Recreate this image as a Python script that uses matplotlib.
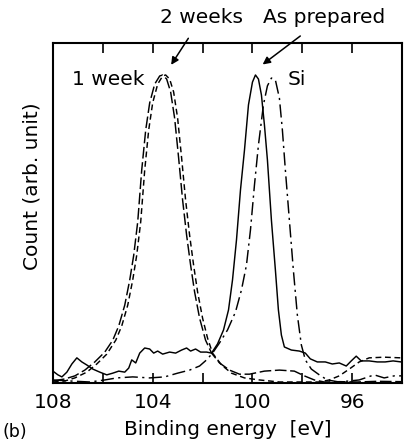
import matplotlib
matplotlib.use('Agg')
import matplotlib.pyplot as plt

# binding energy (eV) / count (arb.)
week1_x = [108.00, 107.52, 107.12, 106.72, 106.32, 105.92, 105.60, 105.36, 105.12, 104.92,
           104.76, 104.60, 104.44, 104.28, 104.12, 103.92, 103.72, 103.60, 103.44, 103.28,
           103.12, 102.96, 102.80, 102.64, 102.48, 102.32, 102.12, 101.88, 101.64, 101.32,
           100.92, 100.52, 100.12, 99.52, 98.92, 98.32, 97.92, 97.52, 97.12, 96.5, 95.8, 95.0, 94.0]
week1_y = [0.6, 1.2, 2.1, 3.8, 6.2, 9.1, 12.6, 16.8, 22.9, 30.3,
           37.6, 47.4, 62.6, 74.4, 82.4, 87.9, 90.3, 90.6, 89.4, 85.6,
           77.9, 66.2, 53.8, 43.5, 34.7, 26.8, 19.1, 12.6, 8.8, 5.9,
           3.8, 2.6, 2.6, 3.5, 3.8, 3.5, 2.1, 0.9, 0.3, 0.4, 0.3, 0.5, 0.4]

weeks2_x = [108.00, 107.52, 107.12, 106.64, 106.24, 105.84, 105.48, 105.24, 105.00, 104.80,
            104.64, 104.48, 104.32, 104.16, 104.00, 103.80, 103.60, 103.48, 103.32, 103.16,
            103.00, 102.84, 102.68, 102.52, 102.36, 102.20, 102.00, 101.80, 101.60, 101.24,
            100.84, 100.32, 99.72, 98.92, 98.12, 97.32, 96.92, 96.52, 96.12, 95.72,
            95.32, 94.72, 94.04]
weeks2_y = [0.3, 0.6, 1.5, 3.2, 5.6, 8.5, 12.6, 16.8, 22.9, 30.3,
            37.6, 47.4, 62.6, 74.4, 82.4, 87.9, 90.3, 90.6, 89.4, 85.6,
            77.9, 66.2, 53.8, 43.5, 34.7, 26.8, 19.1, 13.2, 8.8, 5.3,
            2.9, 1.5, 0.9, 0.3, 0.3, 0.3, 0.9, 2.1, 4.1, 6.2,
            7.4, 7.6, 7.4]

prep_x = [108.00, 107.80, 107.64, 107.44, 107.24, 107.04, 106.84, 106.64, 106.40, 106.12,
          105.84, 105.60, 105.36, 105.12, 104.96, 104.84, 104.68, 104.52, 104.32, 104.12,
          103.96, 103.80, 103.60, 103.32, 103.08, 102.84, 102.64, 102.48, 102.28, 102.08,
          101.84, 101.64, 101.40, 101.16, 100.96, 100.80, 100.64, 100.48, 100.32, 100.16,
          100.00, 99.88, 99.76, 99.64, 99.52, 99.40, 99.24, 99.08, 98.96, 98.84,
          98.72, 98.44, 98.12, 97.88, 97.68, 97.40, 97.08, 96.80, 96.52, 96.24,
          96.04, 95.84, 95.64, 95.32, 95.00, 94.68, 94.36, 94.04]
prep_y = [3.5, 2.4, 1.8, 3.2, 5.6, 7.4, 6.2, 5.3, 4.1, 3.2,
          2.4, 2.9, 3.5, 3.2, 4.4, 6.8, 5.9, 8.8, 10.3, 10.0,
          8.8, 9.4, 8.5, 9.1, 8.8, 9.7, 10.3, 9.4, 10.0, 9.1,
          9.1, 8.8, 11.5, 15.6, 21.5, 30.3, 42.1, 56.8, 68.5, 81.8,
          88.5, 90.6, 89.4, 84.7, 75.9, 65.6, 47.9, 33.2, 21.5, 14.1,
          10.6, 9.7, 9.4, 8.8, 7.1, 6.2, 6.2, 5.6, 5.9, 5.0,
          6.5, 7.9, 6.5, 6.5, 6.2, 6.2, 6.5, 6.2]

si_x = [108.00, 107.32, 106.52, 105.92, 105.44, 104.80, 104.12, 103.52, 103.00, 102.52,
        102.12, 101.84, 101.60, 101.32, 101.00, 100.68, 100.44, 100.24, 100.08, 99.92,
        99.76, 99.56, 99.40, 99.24, 99.08, 98.92, 98.80, 98.68, 98.52, 98.36,
        98.20, 98.04, 97.88, 97.64, 97.32, 97.00, 96.52, 95.72, 95.12, 94.72, 94.32, 94.04]
si_y = [0.9, 0.6, 0.3, 0.9, 1.5, 1.8, 1.5, 1.8, 2.9, 3.8,
        5.0, 6.8, 8.8, 11.8, 15.6, 20.9, 27.4, 34.7, 45.0, 58.2,
        70.0, 81.8, 87.4, 89.7, 89.1, 83.8, 74.4, 62.6, 47.9, 33.2,
        20.0, 11.2, 6.8, 4.1, 2.4, 0.9, 0.3, 0.9, 2.4, 1.5, 2.1, 2.1]

major_ticks = [108, 104, 100, 96]
minor_ticks = [106, 104, 102, 100, 98, 96]

plt.rcParams['font.family'] = 'DejaVu Sans'
fig = plt.figure(figsize=(4.07, 4.43), dpi=100)
ax = fig.add_axes([0.130, 0.1354, 0.858, 0.7675])

lw = 1.05
ax.plot(prep_x, prep_y, color='black', lw=lw)
ax.plot(week1_x, week1_y, color='black', lw=lw, linestyle=(0, (8, 2.5)))
ax.plot(weeks2_x, weeks2_y, color='black', lw=lw, linestyle=(0, (4, 2.5)))
ax.plot(si_x, si_y, color='black', lw=lw, linestyle=(0, (9, 3, 1.5, 3)))

ax.set_xlim(108, 94)
ax.set_ylim(0, 100)
ax.set_yticks([])
ax.set_xticks(major_ticks)
ax.set_xticklabels([str(t) for t in major_ticks], fontsize=14.5)
ax.set_xticks(minor_ticks, minor=True)
ax.tick_params(axis='x', which='both', direction='in', top=True, length=7, width=1.2, pad=7)
for s in ax.spines.values():
    s.set_linewidth(1.5)

ax.set_xlabel('Binding energy  [eV]', fontsize=14.5, labelpad=6)
fig.text(32 / 407, 1 - 186 / 443, 'Count (arb. unit)', rotation=90, fontsize=14.5,
         ha='center', va='center')
fig.text(2 / 407, 1 - 432 / 443, '(b)', fontsize=12.5, ha='left', va='center')

arrow = dict(arrowstyle='-|>', color='black', lw=1.1, mutation_scale=11)
ax.annotate('2 weeks', xy=(103.32, 92.9), xytext=(102.04, 107.4), fontsize=14.5,
            ha='center', va='center', arrowprops=dict(arrow, shrinkA=7), annotation_clip=False)
ax.annotate('As prepared', xy=(99.68, 93.2), xytext=(97.12, 107.4), fontsize=14.5,
            ha='center', va='center', arrowprops=dict(arrow, shrinkA=7), annotation_clip=False)
ax.text(105.8, 89.4, '1 week', fontsize=14.5, ha='center', va='center')
ax.text(98.24, 89.4, 'Si', fontsize=14.5, ha='center', va='center')

fig.savefig('out.png', dpi=100)
